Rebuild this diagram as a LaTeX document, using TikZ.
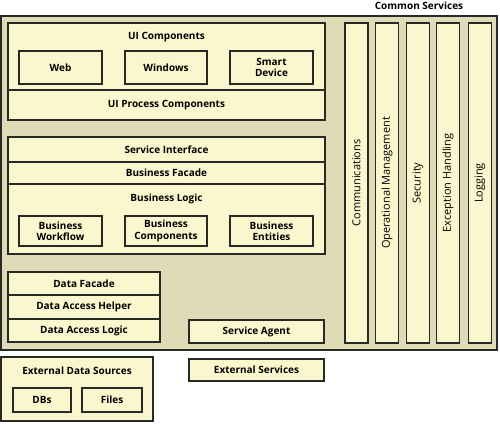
\documentclass[tikz,border=0pt]{standalone}
\usepackage{fontspec}
\setmainfont{Open Sans}
\definecolor{paleyel}{RGB}{250,247,206}
\definecolor{tanbg}{RGB}{222,219,182}
\definecolor{edge}{RGB}{40,40,36}

\begin{document}
\begin{tikzpicture}[
    x=1pt, y=-1pt,
    lbl/.style={font=\bfseries\fontsize{10}{11.5}\selectfont, align=center},
    box/.style={rectangle, draw=edge, fill=paleyel, line width=1.1pt,
                inner sep=0pt, outer sep=0pt, lbl},
    colbox/.style={box, minimum width=23pt, minimum height=320pt},
    coltext/.style={rotate=90, font=\fontsize{11}{12}\selectfont}
]
\useasboundingbox (0,0) rectangle (500,423);

% Outer frame
\node[box, fill=tanbg, minimum width=496pt, minimum height=334pt] (frame) at (249,183) {};
\node[lbl] (common) at (419,6) {Common Services};

% UI layer
\node[box, minimum width=317pt, minimum height=67pt] (uicomp) at (166.5,56.5) {};
\node[lbl] (uititle) at (166.5,37) {UI Components};
\node[box, minimum width=83pt, minimum height=33pt] (web) at (60.5,67.5) {Web};
\node[box, minimum width=82pt, minimum height=33pt] (win) at (166,67.5) {Windows};
\node[box, minimum width=83pt, minimum height=33pt] (smart) at (271.5,67.5) {Smart\\Device};
\node[box, minimum width=317pt, minimum height=30pt] (uiproc) at (166.5,105) {UI Process Components};

% Business layer
\node[box, minimum width=317pt, minimum height=25pt] (svcif) at (166.5,149.5) {Service Interface};
\node[box, minimum width=317pt, minimum height=22pt] (bizfac) at (166.5,173) {Business Facade};
\node[box, minimum width=317pt, minimum height=70pt] (bizlog) at (166.5,219) {};
\node[lbl] (logtitle) at (166.5,199) {Business Logic};
\node[box, minimum width=83pt, minimum height=30pt] (flow) at (60.5,231) {Business\\Workflow};
\node[box, minimum width=82pt, minimum height=30pt] (bcomp) at (166,231) {Business\\Components};
\node[box, minimum width=83pt, minimum height=30pt] (ent) at (271.5,231) {Business\\Entities};

% Data layer
\node[box, minimum width=152pt, minimum height=23pt] (datafac) at (84,283.5) {Data Facade};
\node[box, minimum width=152pt, minimum height=24pt] (dahelp) at (84,307) {Data Access Helper};
\node[box, minimum width=152pt, minimum height=23pt] (dalogic) at (84,330.5) {Data Access Logic};
\node[box, minimum width=135pt, minimum height=23pt] (agent) at (256.5,331.5) {Service Agent};

% Common services
\node[colbox] (comm) at (356.5,183) {};
\node[coltext] at (comm) {Communications};
\node[colbox] (opman) at (387,183) {};
\node[coltext] at (opman) {Operational Management};
\node[colbox] (sec) at (418,183) {};
\node[coltext] at (sec) {Security};
\node[colbox] (exc) at (448,183) {};
\node[coltext] at (exc) {Exception Handling};
\node[colbox] (logg) at (480,183) {};
\node[coltext] at (logg) {Logging};

% External
\node[box, minimum width=152pt, minimum height=64pt] (extdata) at (77,389) {};
\node[lbl] (extitle) at (77,371) {External Data Sources};
\node[box, minimum width=58pt, minimum height=24pt] (dbs) at (42,400) {DBs};
\node[box, minimum width=60pt, minimum height=24pt] (files) at (112,400) {Files};
\node[box, minimum width=135pt, minimum height=22pt] (extsvc) at (256.5,370) {External Services};
\end{tikzpicture}
\end{document}
